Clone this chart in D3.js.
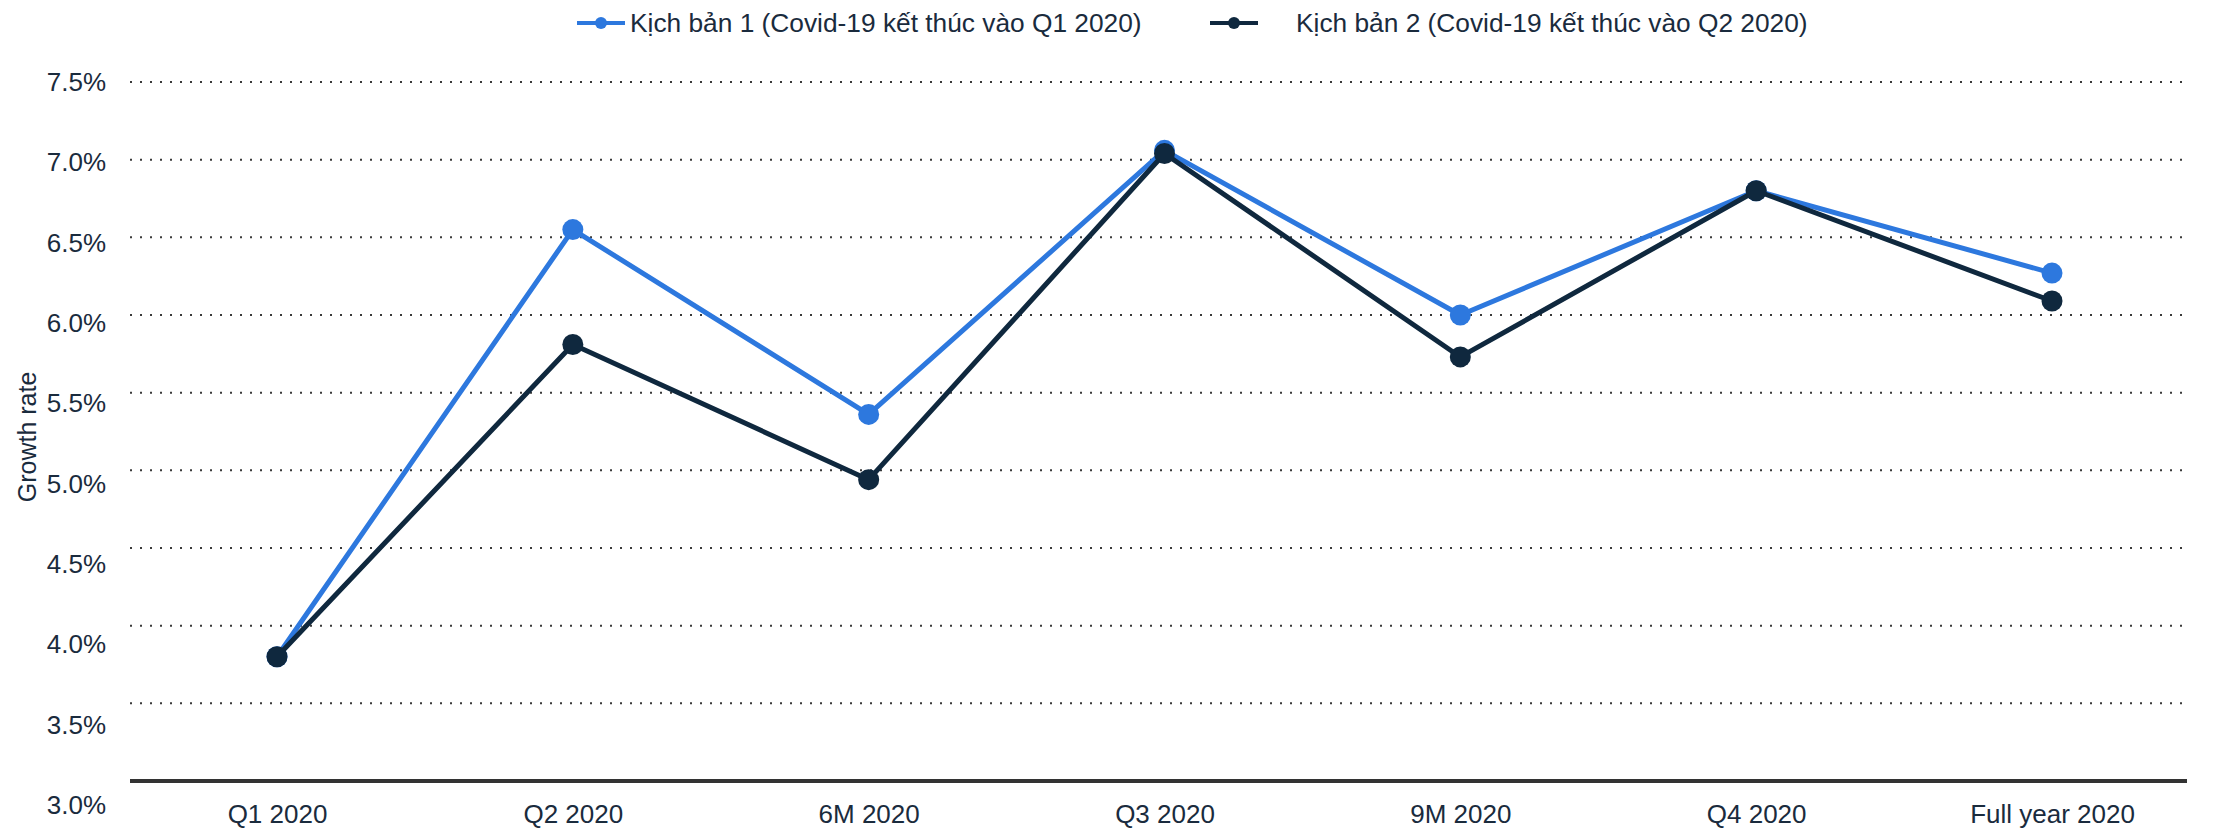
<!DOCTYPE html>
<html>
<head>
<meta charset="utf-8">
<script src="https://cdn.jsdelivr.net/npm/d3@7"></script>
<style>
  body { margin: 0; background: #fff; }
  svg { display: block; font-family: "Liberation Sans", Arial, sans-serif; }
</style>
</head>
<body>
<svg></svg>
<script>
// data
var categories = ["Q1 2020", "Q2 2020", "6M 2020", "Q3 2020", "9M 2020", "Q4 2020", "Full year 2020"];
var scenario1 = [3.8, 6.55, 5.36, 7.06, 6.0, 6.8, 6.27];
var scenario2 = [3.8, 5.81, 4.94, 7.04, 5.73, 6.8, 6.09];
var seriesNames = ["Kịch bản 1 (Covid-19 kết thúc vào Q1 2020)", "Kịch bản 2 (Covid-19 kết thúc vào Q2 2020)"];
var yTicks = [3.0, 3.5, 4.0, 4.5, 5.0, 5.5, 6.0, 6.5, 7.0, 7.5];

var colors = ["#2d78de", "#0f283e"];
var textColor = "#1a2b3d";

var svgWidth = 2214, svgHeight = 831;
var plotLeft = 130, plotRight = 2187;

var svg = d3.select("svg")
	.attr("width", svgWidth)
	.attr("height", svgHeight);

var x = d3.scalePoint()
	.domain(categories)
	.range([277, 2052]);

var y = d3.scaleLinear()
	.domain([3, 7.5])
	.range([781, 82]);

// tick labels drift slightly from the grid in the original
var yLabel = d3.scaleLinear()
	.domain([3, 7.5])
	.range([805, 82]);

// dotted grid
svg.append("g")
	.selectAll("line")
	.data(yTicks.filter(function(d) { return d > 3; }))
	.enter().append("line")
	.attr("x1", plotLeft)
	.attr("x2", plotRight)
	.attr("y1", function(d) { return y(d); })
	.attr("y2", function(d) { return y(d); })
	.attr("stroke", "#3a3a3a")
	.attr("stroke-width", 2)
	.attr("stroke-dasharray", "2 8");

// y tick labels
svg.append("g")
	.selectAll("text")
	.data(yTicks)
	.enter().append("text")
	.attr("x", 106)
	.attr("y", function(d) { return yLabel(d); })
	.attr("dy", "0.35em")
	.attr("text-anchor", "end")
	.attr("fill", textColor)
	.style("font-size", "26px")
	.text(function(d) { return d.toFixed(1) + "%"; });

// y title
svg.append("text")
	.attr("transform", "translate(36,437) rotate(-90)")
	.attr("text-anchor", "middle")
	.attr("fill", textColor)
	.style("font-size", "25px")
	.text("Growth rate");

// x axis
var xAxis = svg.append("g")
	.attr("transform", "translate(0,781)")
	.call(d3.axisBottom(x).tickSize(0).tickPadding(24));
xAxis.select(".domain").remove();
xAxis.append("line")
	.attr("x1", plotLeft)
	.attr("x2", plotRight)
	.attr("stroke", "#333")
	.attr("stroke-width", 4);
xAxis.selectAll(".tick text")
	.attr("fill", textColor)
	.style("font-size", "26px")
	.style("font-family", "'Liberation Sans', Arial, sans-serif");

var line = d3.line()
	.x(function(d, i) { return x(categories[i]); })
	.y(function(d) { return y(d); });

[scenario1, scenario2].forEach(function(values, s) {
	svg.append("path")
		.datum(values)
		.attr("fill", "none")
		.attr("stroke", colors[s])
		.attr("stroke-width", 5)
		.attr("stroke-linejoin", "round")
		.attr("d", line);
	svg.append("g")
		.selectAll("circle")
		.data(values)
		.enter().append("circle")
		.attr("cx", function(d, i) { return x(categories[i]); })
		.attr("cy", function(d) { return y(d); })
		.attr("r", 10.5)
		.attr("fill", colors[s]);
});

// legend
var legendX = [601, 1234];
var legendTextX = [630, 1296];
var legend = svg.append("g");
seriesNames.forEach(function(name, s) {
	var g = legend.append("g").attr("transform", "translate(" + legendX[s] + ",23)");
	g.append("line")
		.attr("x1", -24).attr("x2", 24)
		.attr("stroke", colors[s])
		.attr("stroke-width", 4);
	g.append("circle")
		.attr("r", 6)
		.attr("fill", colors[s]);
	legend.append("text")
		.attr("x", legendTextX[s])
		.attr("y", 23)
		.attr("dy", "0.35em")
		.attr("fill", textColor)
		.style("font-size", "26.3px")
		.text(name);
});
</script>
</body>
</html>
